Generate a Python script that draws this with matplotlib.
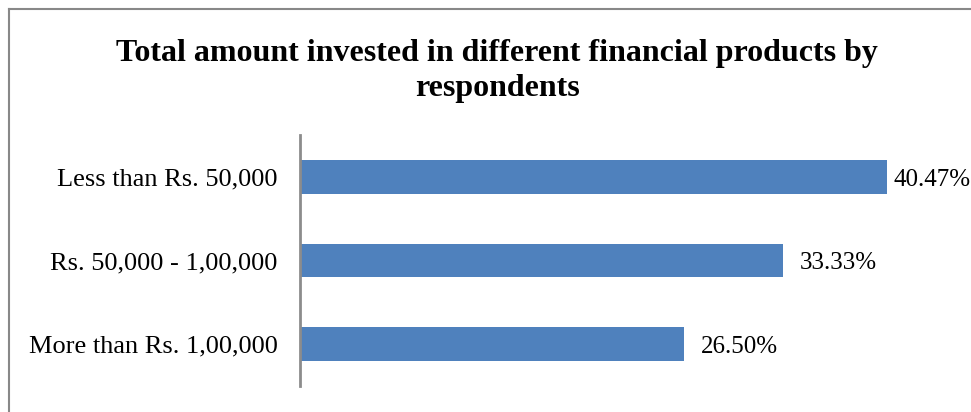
import matplotlib.pyplot as plt
from matplotlib.lines import Line2D

# data
categories = ["More than Rs. 1,00,000", "Rs. 50,000 - 1,00,000", "Less than Rs. 50,000"]
values = [26.50, 33.33, 40.47]
labels = ["26.50%", "33.33%", "40.47%"]

plt.rcParams['font.family'] = ['Liberation Serif', 'DejaVu Serif']

fig = plt.figure(figsize=(9.71, 4.12), dpi=100)
ax = fig.add_axes([300 / 971, 26 / 412, 660 / 971, 251 / 412])

ax.barh(range(len(categories)), values, height=0.4, color="#4F81BD")
ax.set_xlim(0, 45.5)
ax.set_ylim(-0.5, 2.5)

ax.set_yticks(range(len(categories)))
ax.set_yticklabels(categories, fontsize=19)
ax.tick_params(axis='y', length=0, pad=16)
ax.set_xticks([])

for s in ["top", "right", "bottom"]:
    ax.spines[s].set_visible(False)
ax.spines["left"].set_color("#8C8C8C")
ax.spines["left"].set_linewidth(2)

# value labels
for i, (v, lab) in enumerate(zip(values, labels)):
    pad = 5 if v == max(values) else 12
    ax.annotate(lab, (v, i), xytext=(pad, -2), textcoords="offset points",
                va="center", ha="left", fontsize=18)

fig.text(497 / 971, 1 - 71 / 412,
         "Total amount invested in different financial products by\nrespondents",
         ha="center", va="center", fontsize=23, fontweight="bold", linespacing=1.31)

# outer border (top and left visible)
fig.add_artist(Line2D([8.5 / 971, 8.5 / 971], [0, 1 - 8.5 / 412], transform=fig.transFigure,
                      color="#888888", lw=1.5))
fig.add_artist(Line2D([8.5 / 971, 1], [1 - 8.5 / 412, 1 - 8.5 / 412], transform=fig.transFigure,
                      color="#888888", lw=1.5))

fig.savefig("out.png", dpi=100)
